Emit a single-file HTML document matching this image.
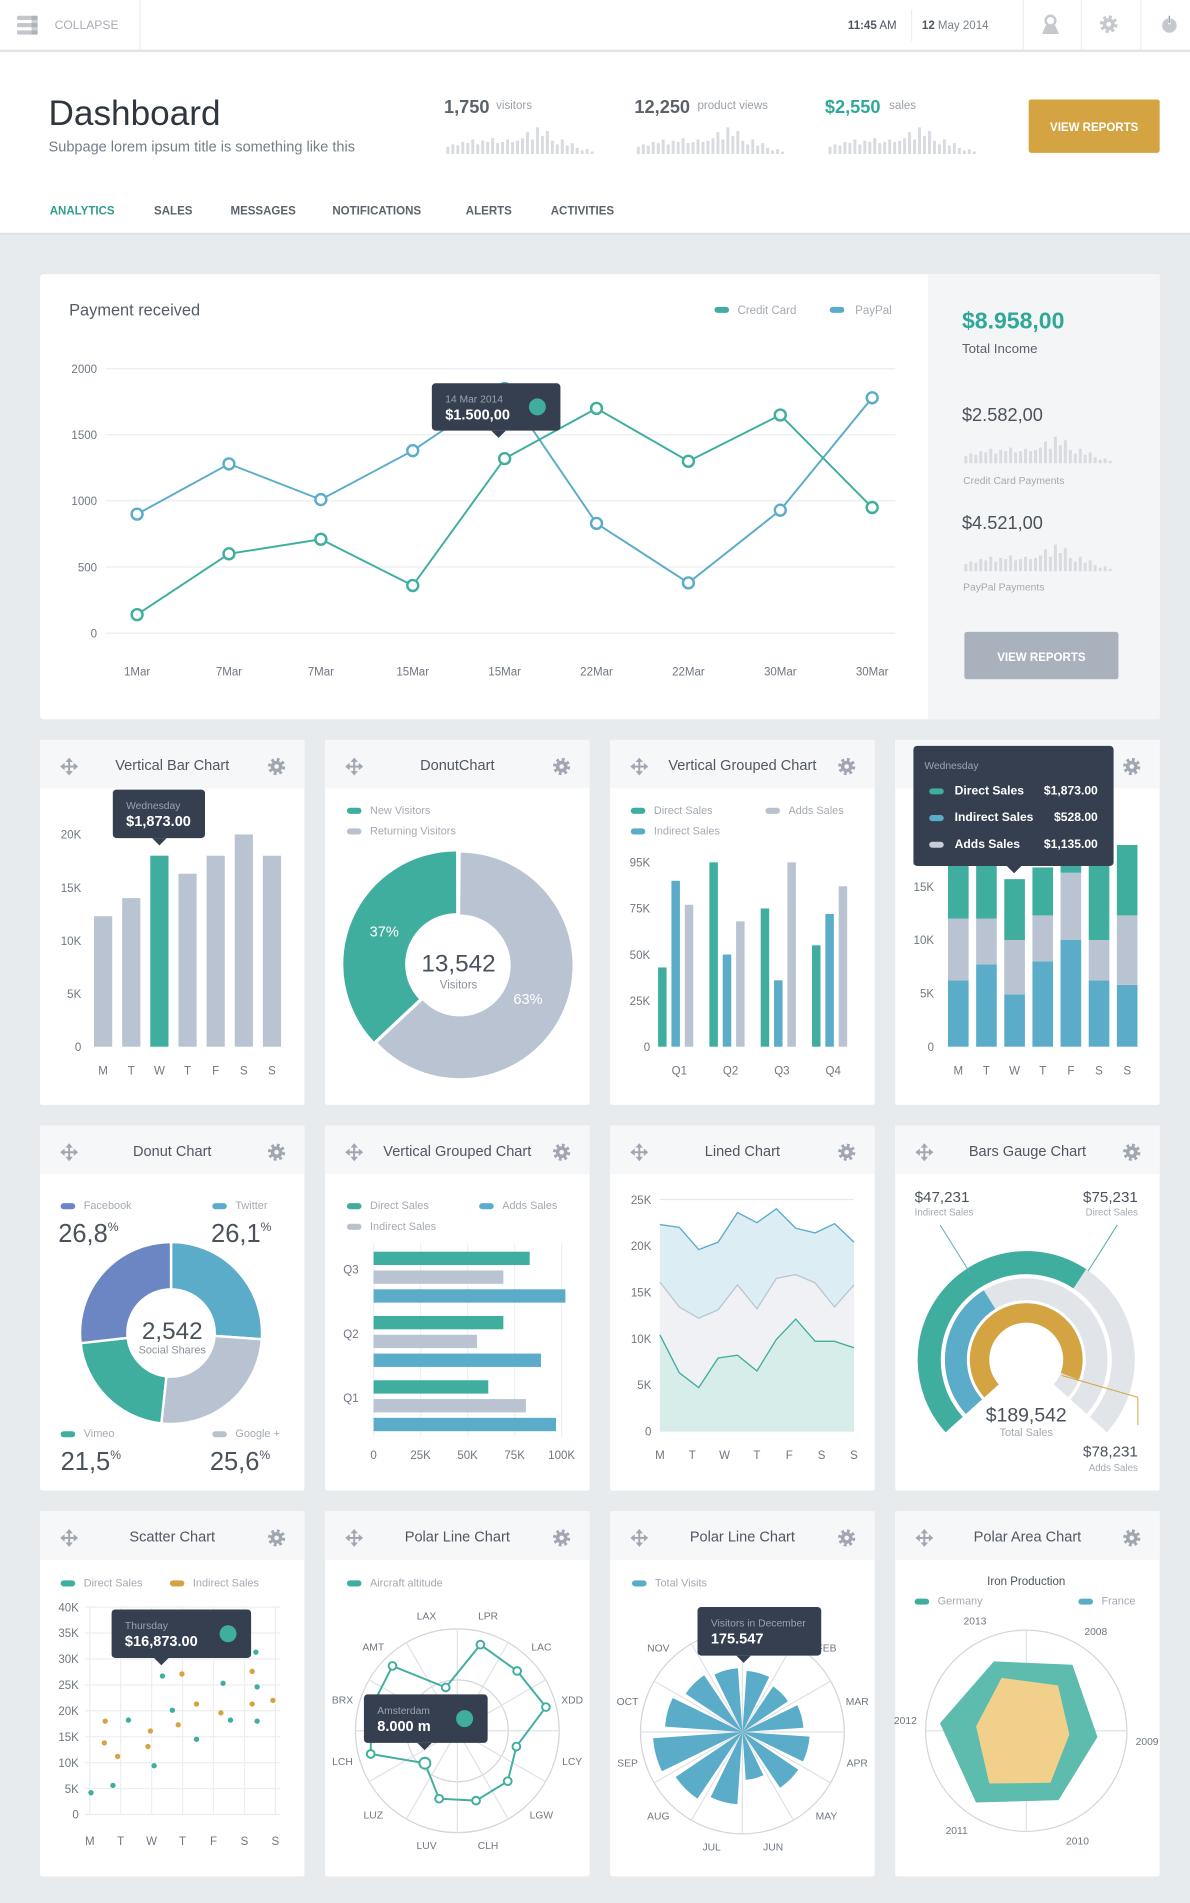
<!DOCTYPE html>
<html><head><meta charset="utf-8"><title>Dashboard</title>
<style>
html,body{margin:0;padding:0;background:#e8ebee;}
svg{display:block;font-family:"Liberation Sans",Arial,sans-serif;}
</style></head>
<body>
<svg id="root" xmlns="http://www.w3.org/2000/svg" width="1190" height="1903" viewBox="0 0 981 1569" preserveAspectRatio="none">
  <rect x="0" y="0" width="981" height="1569" fill="#e8ebee"/>
  <g>
    <rect x="0" y="0" width="981" height="41" fill="#ffffff"/>
    <rect x="0" y="41" width="981" height="1.5" fill="#dfe2e6"/>
    <g>
      <rect x="14" y="13" width="17" height="3.5" rx="1" fill="#c3c7cc"/>
      <rect x="14" y="19" width="17" height="3.5" rx="1" fill="#c3c7cc"/>
      <rect x="14" y="25" width="17" height="3.5" rx="1" fill="#c3c7cc"/>
      <rect x="26" y="13" width="5" height="15.5" fill="#9aa0a8" opacity="0.5"/>
      <text x="45" y="24" font-size="10" fill="#a8adb4">COLLAPSE</text>
    </g>
    <rect x="115" y="0" width="1" height="41" fill="#eceef0"/>
    <text x="699" y="24" font-size="9.5" fill="#50575f"><tspan font-weight="bold">11:45</tspan> AM</text>
    <rect x="751" y="8" width="1" height="26" fill="#eceef0"/>
    <text x="760" y="24" font-size="9.5" fill="#7b828b"><tspan fill="#50575f" font-weight="bold">12</tspan> May 2014</text>
    <rect x="843" y="0" width="1" height="41" fill="#eceef0"/>
    <rect x="891" y="0" width="1" height="41" fill="#eceef0"/>
    <rect x="940" y="0" width="1" height="41" fill="#eceef0"/>
    <g>
      <circle cx="866" cy="17" r="4" fill="none" stroke="#c5c9ce" stroke-width="2"/>
      <path d="M859 28 L862 21 L870 21 L873 28 Z" fill="#c5c9ce"/>
    </g>
    <g>
      <circle cx="914" cy="20" r="6" fill="none" stroke="#c5c9ce" stroke-width="2.6" stroke-dasharray="2.4 2.3"/>
      <circle cx="914" cy="20" r="5" fill="#c5c9ce"/>
      <circle cx="914" cy="20" r="2" fill="#fff"/>
    </g>
    <g>
      <circle cx="964" cy="21" r="6" fill="#c5c9ce"/>
      <rect x="963" y="12" width="2" height="8" fill="#fff"/>
      <rect x="963.4" y="13" width="1.2" height="6" fill="#9aa0a8"/>
    </g>
  </g>

  <g>
    <rect x="0" y="43" width="981" height="149" fill="#ffffff"/>
    <rect x="0" y="192" width="981" height="1.5" fill="#dde1e5"/>
    <text x="40" y="103" font-size="29" fill="#2f3640">Dashboard</text>
    <text x="40" y="125" font-size="12" fill="#757d87">Subpage lorem ipsum title is something like this</text>
    <g>
      <text x="366" y="93" font-size="15" font-weight="bold" fill="#5b626b">1,750</text>
      <text x="409" y="90" font-size="9.5" fill="#9aa0a8">visitors</text>
      <g id="spark1"></g>
    </g>
    <g>
      <text x="523" y="93" font-size="15" font-weight="bold" fill="#5b626b">12,250</text>
      <text x="575" y="90" font-size="9.5" fill="#9aa0a8">product views</text>
      <g id="spark2"></g>
    </g>
    <g>
      <text x="680" y="93" font-size="15" font-weight="bold" fill="#2fa898">$2,550</text>
      <text x="733" y="90" font-size="9.5" fill="#9aa0a8">sales</text>
      <g id="spark3"></g>
    </g>
    <g>
      <rect x="848" y="82" width="108" height="44" rx="2" fill="#d4a443"/>
      <text x="902" y="108" font-size="9.5" font-weight="bold" fill="#ffffff" text-anchor="middle">VIEW REPORTS</text>
    </g>
    <g font-size="9.5" font-weight="bold" fill="#5b636c">
      <text x="41" y="177" fill="#2e9e8f">ANALYTICS</text>
      <text x="127" y="177">SALES</text>
      <text x="190" y="177">MESSAGES</text>
      <text x="274" y="177">NOTIFICATIONS</text>
      <text x="384" y="177">ALERTS</text>
      <text x="454" y="177">ACTIVITIES</text>
    </g>
  </g>

  <g>
    <rect x="33" y="226" width="923" height="367" rx="3" fill="#ffffff"/>
    <rect x="765" y="226" width="191" height="367" fill="#f4f5f7"/>
    <text x="57" y="260" font-size="13.5" fill="#555c66">Payment received</text>
    <g>
      <rect x="589" y="253" width="12" height="5" rx="2.5" fill="#3fae9f"/>
      <text x="608" y="259" font-size="9.5" fill="#a4aab2">Credit Card</text>
    </g>
    <g>
      <rect x="684" y="253" width="12" height="5" rx="2.5" fill="#5aacc9"/>
      <text x="705" y="259" font-size="9.5" fill="#a4aab2">PayPal</text>
    </g>
    <g id="payChart"></g>
    <g>
      <text x="793" y="271" font-size="19" font-weight="bold" fill="#2fa898">$8.958,00</text>
      <text x="793" y="291" font-size="11" fill="#5b626b">Total Income</text>
      <text x="793" y="347" font-size="15" fill="#4a525c">$2.582,00</text>
      <g id="spark4"></g>
      <text x="794" y="399" font-size="8.5" fill="#a4aab2">Credit Card Payments</text>
      <text x="793" y="436" font-size="15" fill="#4a525c">$4.521,00</text>
      <g id="spark5"></g>
      <text x="794" y="487" font-size="8.5" fill="#a4aab2">PayPal Payments</text>
    </g>
    <g>
      <rect x="795" y="521" width="127" height="39" rx="2" fill="#a9b1bc"/>
      <text x="858.5" y="545" font-size="9.5" font-weight="bold" fill="#ffffff" text-anchor="middle">VIEW REPORTS</text>
    </g>
  </g>
  <g id="cards"></g>
</svg>
<script>
// ===== DATA =====
const sparkHeights = [6,8,7,10,9,12,8,11,10,13,9,10,12,10,11,13,18,12,22,15,19,11,8,12,7,9,5,3,4,2];
const payCats = ['1Mar','7Mar','7Mar','15Mar','15Mar','22Mar','22Mar','30Mar','30Mar'];
const payCreditCard = [140,600,710,360,1320,1700,1300,1650,950];
const payPaypal = [900,1280,1010,1380,1850,830,380,930,1780];
const payTicks = [0,500,1000,1500,2000];

const vbCats = ['M','T','W','T','F','S','S'];
const vbValues = [12.3,14,18,16.3,18,20,18];
const vbTicks = [0,5,10,15,20];
const vbTickLabels = ['0','5K','10K','15K','20K'];

const donutValues = [63,37];
const donutLabels = ['63%','37%'];

const gqCats = ['Q1','Q2','Q3','Q4'];
const gqDirect = [43,100,75,55];
const gqIndirect = [90,50,36,72];
const gqAdds = [77,68,100,87];
const gqTicks = [0,25,50,75,100];
const gqTickLabels = ['0','25K','50K','75K','95K'];

const stCats = ['M','T','W','T','F','S','S'];
const stIndirect = [6.2,7.7,4.9,8,10,6.2,5.8];
const stAdds = [5.8,4.3,5.1,4.3,6.3,3.8,6.5];
const stDirect = [7,5.4,5.7,4.5,2.7,7.4,6.6];
const stTicks = [0,5,10,15];
const stTickLabels = ['0','5K','10K','15K'];

const socialNames = ['Twitter','Google +','Vimeo','Facebook'];
const socialValues = [26.1,25.6,21.5,26.8];

const hbCats = ['Q1','Q2','Q3'];
const hbDirect = [61,69,83];
const hbAdds = [81,55,69];
const hbIndirect = [97,89,102];
const hbTicks = [0,25,50,75,100];
const hbTickLabels = ['0','25K','50K','75K','100K'];

const lnCats = ['M','T','W','T','F','S','S'];
const lnTop = [22.3,22,19.6,20.4,23.6,22.5,24,21.9,21.4,22.4,20.4];
const lnMid = [16.1,13.4,12.2,13.1,15.8,13.2,16.5,16.9,16,13.4,15.8];
const lnLow = [10.4,6.3,4.7,7.9,8.2,6.5,9.9,12.1,9.7,9.7,9];
const lnTicks = [0,5,10,15,20,25];
const lnTickLabels = ['0','5K','10K','15K','20K','25K'];

const gaugeNames = ['Direct Sales','Indirect Sales','Adds Sales'];
const gaugeValues = [75231,47231,78231];
const gaugeMax = [120000,124000,85000];

const scCats = ['M','T','W','T','F','S','S'];
const scDirectX = [0.04,0.75,1.25,2.08,2.35,2.67,3.45,4.31,4.55,5.37,5.41,5.41];
const scDirectY = [4.2,5.6,18.2,9.4,26.7,20.1,14.5,25.3,18.2,31.3,24.6,18];
const scIndirectX = [0.5,0.47,0.9,1.88,1.96,2.98,2.86,3.45,4.24,5.25,5.92,5.25];
const scIndirectY = [18,13.8,11.2,13.1,16.1,27.1,17.3,21.3,19.6,27.6,22,21.3];
const scTicks = [0,5,10,15,20,25,30,35,40];
const scTickLabels = ['0','5K','10K','15K','20K','25K','30K','35K','40K'];

const plCats = ['LAX','LPR','LAC','XDD','LCY','LGW','CLH','LUV','LUZ','LCH','BRX','AMT'];
const plValues = [4400,8750,8300,9000,6000,7000,7100,6900,4500,8800,8750,9000];
const plMax = 10000;

const paCats = ['JAN','FEB','MAR','APR','MAY','JUN','JUL','AUG','SEP','OCT','NOV','DEC'];
const paValues = [168,151,168,185,185,132,199,221,246,213,188,175.5];
const paMax = 280;

const ipYears = ['2008','2009','2010','2011','2012','2013'];
const ipGermany = [80,71,76,87,86,76];
const ipFrance = [55,43,57,64,50,58];
const ipMax = 100;

// ===== HELPERS =====
const NS = 'http://www.w3.org/2000/svg';
const TEAL='#3fae9f', BLUE='#5aacc9', GRAY='#bac3d1', GOLD='#d4a443', PURPLE='#6b86c2', DARK='#353f4f', LBL='#6f7781';
function mk(tag, attrs, parent){
  const e = document.createElementNS(NS, tag);
  for (const k in attrs) e.setAttribute(k, attrs[k]);
  parent.appendChild(e);
  return e;
}
function T(parent, x, y, s, size, fill, anchor, weight){
  const t = mk('text', {x:x, y:y, 'font-size':size, fill:fill, 'text-anchor':anchor||'start', 'font-weight':weight||'normal'}, parent);
  t.textContent = s;
  return t;
}
function pt(cx,cy,r,a){ const rad=a*Math.PI/180; return [cx+r*Math.sin(rad), cy-r*Math.cos(rad)]; }
function arc(cx,cy,r0,r1,a0,a1){
  const large = (a1-a0)>180?1:0;
  const p1=pt(cx,cy,r1,a0), p2=pt(cx,cy,r1,a1), p3=pt(cx,cy,r0,a1), p4=pt(cx,cy,r0,a0);
  return 'M'+p1[0]+' '+p1[1]+' A'+r1+' '+r1+' 0 '+large+' 1 '+p2[0]+' '+p2[1]+' L'+p3[0]+' '+p3[1]+' A'+r0+' '+r0+' 0 '+large+' 0 '+p4[0]+' '+p4[1]+' Z';
}
function legend(parent, x, y, color, label){
  const g = mk('g', {}, parent);
  
  
  mk('rect', {x:x, y:y-5, width:12, height:5, rx:2.5, fill:color}, g);
  T(g, x+19, y, label, 9, '#a4aab2');
  return g;
}
function tooltip(parent, x, y, w, h, tipX, line1, line2, dot){
  const g = mk('g', {}, parent);
  
  
  mk('rect', {x:x, y:y, width:w, height:h, rx:3, fill:DARK}, g);
  mk('path', {d:'M'+(tipX-6)+' '+(y+h)+' L'+tipX+' '+(y+h+6)+' L'+(tipX+6)+' '+(y+h)+' Z', fill:DARK}, g);
  T(g, x+11, y+16, line1, 8.5, '#9aa3b0');
  T(g, x+11, y+30, line2, 12, '#ffffff', 'start', 'bold');
  if (dot) mk('circle', {cx:x+w-19, cy:y+h/2, r:7, fill:TEAL}, g);
  return g;
}
function spark(id, x0, y0, step){
  const g = document.getElementById(id);
  
  
  sparkHeights.forEach(function(h,i){
    const b = mk('rect', {x:x0+i*step, y:y0-h, width:step*0.6, height:h, fill:'#d8dbe0'}, g);
    
  });
}
spark('spark1', 368, 127, 4.1);
spark('spark2', 525, 127, 4.1);
spark('spark3', 683, 127, 4.1);
spark('spark4', 795, 382, 4.1);
spark('spark5', 795, 471, 4.1);

// ===== MAIN LINE CHART =====
(function(){
  const g = document.getElementById('payChart');
  
  
  const y = v => 522 - v/2000*218;
  const x = i => 113 + i*(719-113)/(payCats.length-1);
  payTicks.forEach(function(t){
    const l = mk('line', {x1:87, x2:738, y1:y(t), y2:y(t), stroke:'#e9ecef', 'stroke-width':1}, g);
    
    const tl = T(g, 80, y(t)+3.5, String(t), 9.5, LBL, 'end');
    
  });
  payCats.forEach(function(c,i){
    const tl = T(g, x(i), 557, c, 9.5, LBL, 'middle');
    
  });
  [[payPaypal, BLUE, 'paypal'], [payCreditCard, TEAL, 'credit-card']].forEach(function(s){
    const pts = s[0].map((v,i)=>x(i)+','+y(v)).join(' ');
    const pl = mk('polyline', {points:pts, fill:'none', stroke:s[1], 'stroke-width':1.6}, g);
    
    s[0].forEach(function(v,i){
      const c = mk('circle', {cx:x(i), cy:y(v), r:4.5, fill:'#fff', stroke:s[1], 'stroke-width':2}, g);
      
      
    });
  });
  tooltip(g, 356, 316, 106, 39, 411, '14 Mar 2014', '$1.500,00', true);
})();

// ===== CARDS =====
const cardsG = document.getElementById('cards');
const colX = [33,268,503,738];
const rowY = [610,928,1246];
const titles = [['Vertical Bar Chart','DonutChart','Vertical Grouped Chart','Stacked Bar Chart'],
                ['Donut Chart','Vertical Grouped Chart','Lined Chart','Bars Gauge Chart'],
                ['Scatter Chart','Polar Line Chart','Polar Line Chart','Polar Area Chart']];
const cardG = [];
for (let r=0;r<3;r++){ for (let c=0;c<4;c++){
  const x=colX[c], y=rowY[r];
  const g = mk('g', {}, cardsG);
  
  
  mk('rect', {x:x, y:y, width:218, height:301, rx:2, fill:'#ffffff'}, g);
  mk('rect', {x:x, y:y, width:218, height:40, fill:'#f6f7f9'}, g);
  const tt = T(g, x+109, y+25, titles[r][c], 12, '#4f5761', 'middle');
  
  const mv = mk('g', {stroke:'#a0a7b0', 'stroke-width':1.6, fill:'#a0a7b0'}, g);
  
  
  const mx=x+24, my=y+22;
  mk('line', {x1:mx-5, x2:mx+5, y1:my, y2:my}, mv);
  mk('line', {x1:mx, x2:mx, y1:my-5, y2:my+5}, mv);
  mk('path', {d:'M'+(mx-7)+' '+my+' l3 -2.5 v5 Z M'+(mx+7)+' '+my+' l-3 -2.5 v5 Z M'+mx+' '+(my-7)+' l-2.5 3 h5 Z M'+mx+' '+(my+7)+' l-2.5 -3 h5 Z', 'stroke-width':0.5}, mv);
  const gr = mk('g', {}, g);
  
  
  const gx=x+195, gy=y+22;
  mk('circle', {cx:gx, cy:gy, r:5.8, fill:'none', stroke:'#a0a7b0', 'stroke-width':2.6, 'stroke-dasharray':'2.3 2.25'}, gr);
  mk('circle', {cx:gx, cy:gy, r:4.8, fill:'#a0a7b0'}, gr);
  mk('circle', {cx:gx, cy:gy, r:1.9, fill:'#f6f7f9'}, gr);
  const body = mk('g', {}, g);
  
  
  cardG.push(body);
}}

// 1 Vertical bar chart
(function(g){
  const y = v => 863 - v*8.75;
  const x = i => 85 + i*23.2;
  vbTicks.forEach(function(t,i){ const l=T(g, 67, y(t)+3.5, vbTickLabels[i], 9.5, LBL, 'end');  });
  vbCats.forEach(function(c,i){
    const b = mk('rect', {x:x(i)-7.5, y:y(vbValues[i]), width:15, height:863-y(vbValues[i]), fill: i===2?TEAL:GRAY}, g);
    
    
    const l = T(g, x(i), 886, c, 9.5, LBL, 'middle'); 
  });
  tooltip(g, 93, 651, 76, 40, x(2), 'Wednesday', '$1,873.00', false);
})(cardG[0]);

// 2 Donut
(function(g){
  legend(g, 286, 671, TEAL, 'New Visitors');
  legend(g, 286, 688, '#b9c1cd', 'Returning Visitors');
  const tot = donutValues.reduce((a,b)=>a+b,0);
  const cx=376, cy=796;
  const a1 = donutValues[0]/tot*360;
  const s1 = mk('path', {d:arc(cx+3,cy,42,93,0.5,a1), fill:'#bac3d1'}, g);
  
  
  const s2 = mk('path', {d:arc(cx,cy-1,42,93,a1,360), fill:TEAL}, g);
  
  
  const p1 = pt(cx,cy,70,a1/2), p2 = pt(cx,cy,70,(a1+360)/2);
  T(g, p1[0]-5, p1[1]+4, donutLabels[0], 12, '#ffffff', 'middle');
  T(g, p2[0]+5, p2[1]+4, donutLabels[1], 12, '#ffffff', 'middle');
  T(g, cx+2, cy+5, '13,542', 20, '#4a525c', 'middle');
  T(g, cx+2, cy+19, 'Visitors', 9.5, '#8a919b', 'middle');
})(cardG[1]);

// 3 Vertical grouped
(function(g){
  legend(g, 520, 671, TEAL, 'Direct Sales');
  legend(g, 631, 671, '#b9c1cd', 'Adds Sales');
  legend(g, 520, 688, BLUE, 'Indirect Sales');
  const y = v => 863 - v*1.52;
  gqTicks.forEach(function(t,i){ const l=T(g, 536, y(t)+3.5, gqTickLabels[i], 9.5, LBL, 'end');  });
  gqCats.forEach(function(c,i){
    const cx = 558 + i*42.3;
    [[gqDirect,TEAL,-12],[gqIndirect,BLUE,-1],[gqAdds,GRAY,10]].forEach(function(s){
      const b = mk('rect', {x:cx+s[2]-3.5, y:y(s[0][i]), width:7, height:863-y(s[0][i]), fill:s[1]}, g);
      
      
    });
    const l = T(g, cx+2, 886, c, 9.5, LBL, 'middle'); 
  });
})(cardG[2]);

// 4 Stacked
(function(g){
  const y = v => 863 - v*8.8;
  stTicks.forEach(function(t,i){ const l=T(g, 770, y(t)+3.5, stTickLabels[i], 9.5, LBL, 'end');  });
  stCats.forEach(function(c,i){
    const cx = 790 + i*23.2;
    let base = 0;
    [[stIndirect,BLUE],[stAdds,GRAY],[stDirect,TEAL]].forEach(function(s){
      const v = s[0][i];
      const b = mk('rect', {x:cx-8.5, y:y(base+v), width:17, height:v*8.8, fill:s[1]}, g);
      
      
      base += v;
    });
    const l = T(g, cx, 886, c, 9.5, LBL, 'middle'); 
  });
  const tg = mk('g', {}, g);
  
  
  mk('rect', {x:753, y:615, width:165, height:99, rx:3, fill:DARK}, tg);
  mk('path', {d:'M830 714 L836 720 L842 714 Z', fill:DARK}, tg);
  T(tg, 762, 634, 'Wednesday', 8.5, '#9aa3b0');
  [['Direct Sales','$1,873.00',TEAL],['Indirect Sales','$528.00',BLUE],['Adds Sales','$1,135.00','#c7ced8']].forEach(function(r,i){
    const yy = 655 + i*22;
    mk('rect', {x:766, y:yy-5, width:12, height:5, rx:2.5, fill:r[2]}, tg);
    T(tg, 787, yy, r[0], 10, '#ffffff', 'start', 'bold');
    T(tg, 905, yy, r[1], 10, '#ffffff', 'end', 'bold');
  });
})(cardG[3]);

// 5 Social donut
(function(g){
  legend(g, 50, 997, PURPLE, 'Facebook');
  legend(g, 175, 997, BLUE, 'Twitter');
  legend(g, 50, 1185, TEAL, 'Vimeo');
  legend(g, 175, 1185, '#b9c1cd', 'Google +');
  function val(x,y,s){ const t = mk('text', {x:x, y:y, 'font-size':21, fill:'#4a525c'}, g); t.textContent = s; const sp = mk('tspan', {'font-size':10, dy:-9}, t); sp.textContent='%'; }
  val(48, 1024, '26,8'); val(174, 1024, '26,1'); val(50, 1212, '21,5'); val(173, 1212, '25,6');
  const cols = [BLUE, '#b9c2d0', TEAL, PURPLE];
  const tot = socialValues.reduce((a,b)=>a+b,0);
  let a = 0;
  socialValues.forEach(function(v,i){
    const a2 = a + v/tot*360;
    const s = mk('path', {d:arc(141,1099,36,75,a,a2), fill:cols[i], stroke:'#ffffff', 'stroke-width':2}, g);
    
    
    a = a2;
  });
  T(g, 142, 1104, '2,542', 20, '#4a525c', 'middle');
  T(g, 142, 1116, 'Social Shares', 9, '#8a919b', 'middle');
})(cardG[4]);

// 6 Horizontal grouped
(function(g){
  legend(g, 286, 997, TEAL, 'Direct Sales');
  legend(g, 395, 997, BLUE, 'Adds Sales');
  legend(g, 286, 1014, '#b9c1cd', 'Indirect Sales');
  const x = v => 308 + v*1.55;
  hbTicks.forEach(function(t,i){
    const l = mk('line', {x1:x(t), x2:x(t), y1:1025, y2:1185, stroke:'#eef0f2'}, g);
    
    const tl = T(g, x(t), 1203, hbTickLabels[i], 9.5, LBL, 'middle'); 
  });
  hbCats.forEach(function(c,i){
    const top = 1032 + (2-i)*53;
    [[hbDirect,TEAL],[hbAdds,GRAY],[hbIndirect,BLUE]].forEach(function(s,k){
      const b = mk('rect', {x:308, y:top+k*15.5, width:x(s[0][i])-308, height:11, fill:s[1]}, g);
      
      
    });
    const l = T(g, 283, top+18, c, 9.5, LBL); 
  });
})(cardG[5]);

// 7 Lined chart
(function(g){
  const y = v => 1180 - v*7.64;
  const x = i => 544 + i*(704-544)/(lnTop.length-1);
  lnTicks.forEach(function(t,i){
    const l = mk('line', {x1:544, x2:704, y1:y(t), y2:y(t), stroke:'#e6e9ec'}, g);
    
    const tl = T(g, 537, y(t)+3.5, lnTickLabels[i], 9.5, LBL, 'end'); 
  });
  [[lnTop,'#ddedf4',BLUE,'top'],[lnMid,'#f0f1f5','#bcc5d0','mid'],[lnLow,'#d6ede9',TEAL,'low']].forEach(function(s){
    const pts = s[0].map((v,i)=>x(i)+','+y(v)).join(' ');
    const a = mk('polygon', {points:'544,1180 '+pts+' 704,1180', fill:s[1]}, g);
    
    const l = mk('polyline', {points:pts, fill:'none', stroke:s[2], 'stroke-width':1.1}, g);
    
  });
  lnCats.forEach(function(c,i){ const l=T(g, 544+i*(160/6), 1203, c, 9.5, LBL, 'middle');  });
})(cardG[6]);

// 8 Gauge
(function(g){
  const cx=846, cy=1121, A0=-132, A1=132;
  const rings = [[70.5,89.5,TEAL],[49,67,BLUE],[30.5,46.5,GOLD]];
  rings.forEach(function(r,i){
    const bg = mk('path', {d:arc(cx,cy,r[0],r[1],A0,A1), fill:'#e1e4e9'}, g);
    
    const end = A0 + (A1-A0)*Math.min(1, gaugeValues[i]/gaugeMax[i]);
    const v = mk('path', {d:arc(cx,cy,r[0],r[1],A0,end), fill:r[2]}, g);
    
    
  });
  mk('line', {x1:775, y1:1010, x2:800, y2:1050, stroke:BLUE, 'stroke-width':0.8}, g);
  mk('line', {x1:921, y1:1010, x2:897, y2:1048, stroke:TEAL, 'stroke-width':0.8}, g);
  mk('polyline', {points:'875,1134 938,1152 938,1175', fill:'none', stroke:GOLD, 'stroke-width':0.8}, g);
  T(g, 754, 991, '$47,231', 12.5, '#4a525c');
  T(g, 754, 1002, 'Indirect Sales', 8, '#a4aab2');
  T(g, 938, 991, '$75,231', 12.5, '#4a525c', 'end');
  T(g, 938, 1002, 'Direct Sales', 8, '#a4aab2', 'end');
  T(g, 846, 1172, '$189,542', 16, '#4a525c', 'middle');
  T(g, 846, 1184, 'Total Sales', 9, '#a4aab2', 'middle');
  T(g, 938, 1201, '$78,231', 12.5, '#4a525c', 'end');
  T(g, 938, 1213, 'Adds Sales', 8, '#a4aab2', 'end');
})(cardG[7]);

// 9 Scatter
(function(g){
  legend(g, 50, 1308, TEAL, 'Direct Sales');
  legend(g, 140, 1308, GOLD, 'Indirect Sales');
  const y = v => 1496 - v*4.275;
  const x = i => 74 + i*25.5;
  scTicks.forEach(function(t,i){
    const l = mk('line', {x1:70, x2:231, y1:y(t), y2:y(t), stroke:'#eceef1'}, g);
    
    const tl = T(g, 65, y(t)+3.5, scTickLabels[i], 9.5, LBL, 'end'); 
  });
  scCats.forEach(function(c,i){
    const l = mk('line', {x1:x(i), x2:x(i), y1:1325, y2:1496, stroke:'#eceef1'}, g);
    
    const tl = T(g, x(i), 1521, c, 9.5, LBL, 'middle'); 
  });
  scDirectX.forEach(function(v,i){
    const c = mk('circle', {cx:x(v), cy:y(scDirectY[i]), r:2.2, fill:TEAL}, g);
    
  });
  scIndirectX.forEach(function(v,i){
    const c = mk('circle', {cx:x(v), cy:y(scIndirectY[i]), r:2.2, fill:GOLD}, g);
    
  });
  tooltip(g, 92, 1327, 115, 40, 133, 'Thursday', '$16,873.00', true);
})(cardG[8]);

// 10 Polar line
(function(g){
  legend(g, 286, 1308, TEAL, 'Aircraft altitude');
  const cx=377, cy=1427, R=84;
  mk('circle', {cx:cx, cy:cy, r:R, fill:'none', stroke:'#d2d6db'}, g);
  mk('circle', {cx:cx, cy:cy, r:R/2, fill:'none', stroke:'#d2d6db'}, g);
  for (let a=0;a<360;a+=30){ const p=pt(cx,cy,R,a); mk('line', {x1:cx, y1:cy, x2:p[0], y2:p[1], stroke:'#dfe2e6'}, g); }
  const pts = plValues.map(function(v,i){ return pt(cx,cy,R*v/plMax,-15+30*i); });
  const poly = mk('polygon', {points:pts.map(p=>p.join(',')).join(' '), fill:'none', stroke:TEAL, 'stroke-width':1.6}, g);
  
  pts.forEach(function(p,i){
    const c = mk('circle', {cx:p[0], cy:p[1], r: i===8?4.5:3.2, fill:'#fff', stroke:TEAL, 'stroke-width':1.6}, g);
    
    
  });
  plCats.forEach(function(c,i){
    const p = pt(cx,cy,R+14,-15+30*i);
    const l = T(g, p[0], p[1]+3, c, 8.5, LBL, 'middle'); 
  });
  tooltip(g, 300, 1397, 102, 40, 350, 'Amsterdam', '8.000 m', true);
})(cardG[9]);

// 11 Polar area (visits)
(function(g){
  legend(g, 521, 1308, BLUE, 'Total Visits');
  const cx=612, cy=1428, R=84;
  mk('circle', {cx:cx, cy:cy, r:R, fill:'none', stroke:'#d2d6db'}, g);
  for (let a=0;a<360;a+=30){ const p=pt(cx,cy,R,a); mk('line', {x1:cx, y1:cy, x2:p[0], y2:p[1], stroke:'#dfe2e6'}, g); }
  paValues.forEach(function(v,i){
    const a = 15 + 30*i;
    const w = mk('path', {d:arc(cx,cy,0.01,R*v/paMax,a-11,a+11), fill:BLUE}, g);
    
    
    const p = pt(cx,cy,R+14,a);
    const l = T(g, p[0], p[1]+3, paCats[i], 8.5, LBL, 'middle'); 
  });
  tooltip(g, 575, 1325, 102, 40, 613, 'Visitors in December', '175.547', false);
})(cardG[10]);

// 12 Iron production radar
(function(g){
  T(g, 846, 1307, 'Iron Production', 9.5, '#4a525c', 'middle');
  legend(g, 754, 1323, TEAL, 'Germany');
  legend(g, 889, 1323, BLUE, 'France');
  const cx=846, cy=1427, R=83;
  mk('circle', {cx:cx, cy:cy, r:R, fill:'none', stroke:'#d2d6db'}, g);
  mk('line', {x1:cx, y1:cy-R, x2:cx, y2:cy+R, stroke:'#dfe2e6'}, g);
  mk('line', {x1:cx-R, y1:cy, x2:cx+R, y2:cy, stroke:'#dfe2e6'}, g);
  [[ipGermany,'#5dbcae','germany'],[ipFrance,'#f0d08b','france']].forEach(function(s){
    const pts = s[0].map(function(v,i){ return pt(cx,cy,R*v/ipMax,35+60*i).join(','); }).join(' ');
    const p = mk('polygon', {points:pts, fill:s[1]}, g);
    
    
  });
  ipYears.forEach(function(y,i){
    const p = pt(cx,cy,R+17,35+60*i);
    const l = T(g, p[0], p[1]+3, y, 8.5, LBL, 'middle'); 
  });
})(cardG[11]);
</script>
</body></html>
